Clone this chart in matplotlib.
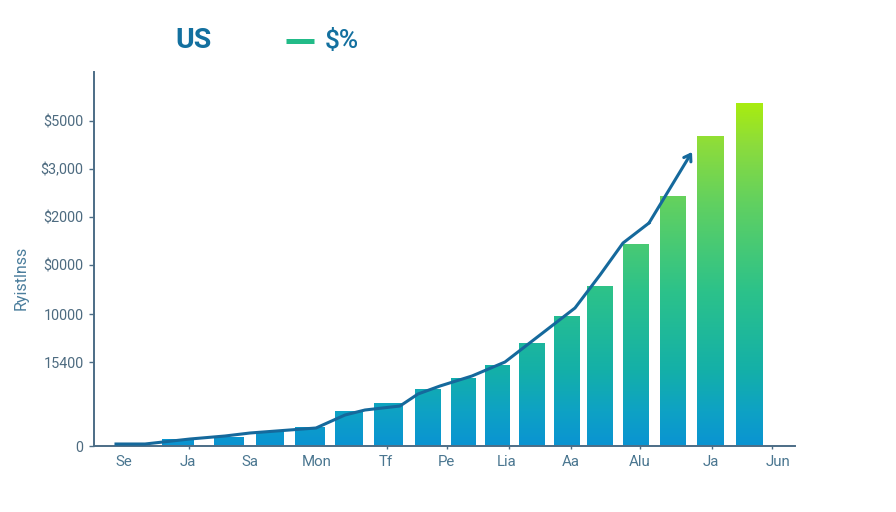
import numpy as np
import matplotlib
matplotlib.use("Agg")
import matplotlib.pyplot as plt
from matplotlib.colors import LinearSegmentedColormap
from matplotlib.lines import Line2D

plt.rcParams['font.family'] = ['Roboto', 'Liberation Sans', 'DejaVu Sans']

# Data (heights, in axis units)
bar_values = [3, 7, 9, 15, 19, 35, 43, 57, 68, 81, 103, 130, 160, 202, 250, 310, 343]
line_values = [2, 2, 7, 10, 13, 18, 31, 36, 40, 52, 60, 70, 84, 111, 138, 171, 203, 223, 291]
tick_values = [0, 84, 132, 181, 229, 277, 325]
tick_labels = ['0', '15400', '10000', '$0000', '$2000', '$3,000', '$5000']
month_labels = ['Se', 'Ja', 'Sa', 'Mon', 'Tf', 'Pe', 'Lia', 'Aa', 'Alu', 'Ja', 'Jun']
legend_labels = ['US', '$%']
y_title = 'Ryistlnss'

# Layout (pixel coordinates of the reference)
W, H = 896, 512
AX_L, AX_R, AX_T, AX_B = 94, 795, 72, 446
bar_left = [116, 162, 214, 256, 295, 335, 374, 415, 451, 485, 519, 554, 587, 623, 660, 697, 736]
bar_right = [146, 194, 244, 284, 325, 363, 403, 441, 476, 510, 545, 580, 613, 649, 686, 724, 763]
line_x = [116, 145, 190, 225, 250, 316, 345, 365, 400, 418, 440, 472, 505, 540, 575, 600, 623, 649, 690]
tick_x = [189, 387, 447, 509, 571, 640, 712, 772]
label_x = [124, 188, 250, 317, 386, 446, 507, 571, 640, 711, 778]

TEXT = '#4a7690'
AXIS = '#4c6d86'
LINE = '#15699c'

fig = plt.figure(figsize=(W / 100, H / 100), dpi=100, facecolor='white')
ax = fig.add_axes([AX_L / W, 1 - AX_B / H, (AX_R - AX_L) / W, (AX_B - AX_T) / H])
ax.set_xlim(AX_L, AX_R)
ax.set_ylim(0, AX_B - AX_T)

cmap = LinearSegmentedColormap.from_list('g', [
    (0.00, '#0a94d2'), (0.10, '#0ea2c4'), (0.22, '#14b0a8'),
    (0.45, '#2cc28a'), (0.70, '#5fd062'), (0.88, '#8cdc3c'), (1.00, '#a8ec10')])
grad = np.linspace(1, 0, 400).reshape(-1, 1)
widths = [r - l for l, r in zip(bar_left, bar_right)]
bars = ax.bar(bar_left, bar_values, width=widths, align='edge', color='none', edgecolor='none', zorder=2)
top = max(bar_values)
for b in bars:
    im = ax.imshow(grad, cmap=cmap, extent=(AX_L, AX_R, 0, top), aspect='auto', zorder=2, vmin=0, vmax=1)
    im.set_clip_path(b)
ax.set_xlim(AX_L, AX_R)
ax.set_ylim(0, AX_B - AX_T)

ax.plot(line_x[:-1], line_values[:-1], color=LINE, lw=2.2, solid_joinstyle='miter', zorder=3, clip_on=False)
ax.annotate('', xy=(line_x[-1] + 2, line_values[-1] + 3), xytext=(line_x[-2], line_values[-2]),
            arrowprops=dict(arrowstyle='->,head_length=0.45,head_width=0.3', color=LINE, lw=2.2,
                            shrinkA=0, shrinkB=0), zorder=3)

for s in ('top', 'right'):
    ax.spines[s].set_visible(False)
for s in ('left', 'bottom'):
    ax.spines[s].set_color(AXIS)
    ax.spines[s].set_linewidth(1.4)

ax.set_yticks(tick_values)
ax.set_yticklabels(tick_labels, fontsize=10.4, color='#4d6b80')
ax.tick_params(axis='y', length=3.5, width=1, color=AXIS, pad=4)
ax.set_xticks(tick_x)
ax.set_xticklabels([])
ax.tick_params(axis='x', length=2.5, width=1, color=AXIS)

for x, lab in zip(label_x, month_labels):
    ax.text(x, -16, lab, ha='center', va='center', fontsize=10.8, color=TEXT)

fig.text(21 / W, 1 - 278 / H, y_title, rotation=90, ha='center', va='center', fontsize=11.5, color='#4a7d9c')

fig.text(175 / W, 1 - 41 / H, legend_labels[0], ha='left', va='center', fontsize=20.5,
         fontweight='bold', color='#13709f')
fig.add_artist(Line2D([286 / W, 314 / W], [1 - 41 / H, 1 - 41 / H], color='#22bb88', lw=3.6,
                      solid_capstyle='butt', transform=fig.transFigure))
fig.text(325 / W, 1 - 41 / H, legend_labels[1], ha='left', va='center', fontsize=19,
         fontweight='medium', color='#13709f')

fig.savefig('out.png', dpi=100, facecolor='white')
